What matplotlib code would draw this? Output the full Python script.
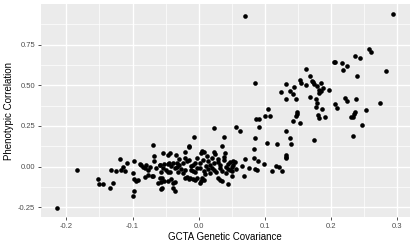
import matplotlib
matplotlib.use("Agg")
import matplotlib.pyplot as plt

# GCTA genetic covariance vs phenotypic correlation
gcta_cov = [
    # sparse left side
    -0.214, -0.184, -0.152, -0.150, -0.145, -0.134, -0.130, -0.133, -0.125, -0.119,
    -0.117, -0.114, -0.112, -0.109, -0.097, -0.100, -0.097, -0.094, -0.098, -0.100,
    # band, x from -0.09 to 0.0
    -0.089, -0.087, -0.084, -0.081, -0.079, -0.077, -0.074, -0.069, -0.067, -0.068,
    -0.071, -0.061, -0.057, -0.053, -0.057, -0.054, -0.047, -0.044, -0.058, -0.052,
    -0.057, -0.047, -0.044, -0.047, -0.045, -0.042, -0.039, -0.036, -0.036, -0.034,
    -0.032, -0.033, -0.031, -0.092, -0.081, -0.076, -0.069, -0.059, -0.055, -0.046,
    -0.041, -0.056, -0.038, -0.021, -0.018, -0.021, -0.021, -0.029, -0.026, -0.023,
    -0.020, -0.015, -0.014, -0.007, -0.017, -0.012, -0.009, -0.005, -0.002, -0.013,
    -0.008, -0.003, -0.014, -0.006, -0.064, -0.059, -0.054, -0.050, -0.036, -0.039,
    -0.030, -0.024,
    # band, x from 0.0 to 0.06
    0.003, 0.005, 0.008, 0.023, 0.025, 0.040, 0.038, 0.036, 0.023, 0.004,
    0.008, 0.002, 0.005, 0.030, 0.033, 0.035, 0.044, 0.050, 0.069,
    -0.014, -0.009, -0.003, 0.002, 0.006, 0.011, 0.015, 0.020, 0.024, 0.029,
    0.033, 0.038, 0.042, 0.047, 0.052, -0.011, -0.005, 0.002, 0.008, 0.014,
    0.018, 0.023, 0.027, 0.032, 0.036, 0.041, 0.045, 0.050, 0.055, 0.052,
    0.050, 0.047, 0.057, 0.012, 0.021, 0.030, 0.039, 0.017, 0.044, 0.009,
    # x from 0.05 to 0.15
    0.056, 0.062, 0.071, 0.086, 0.087, 0.091, 0.092, 0.086, 0.103, 0.084,
    0.084, 0.090, 0.071, 0.099, 0.077, 0.085, 0.089, 0.065, 0.105, 0.100,
    0.108, 0.132, 0.138, 0.140, 0.119, 0.133, 0.132, 0.132, 0.117, 0.122,
    0.111, 0.126, 0.143, 0.153, 0.149, 0.149, 0.148, 0.124, 0.132, 0.139,
    0.143, 0.133, 0.147, 0.144,
    # upper right
    0.153, 0.155, 0.162, 0.163, 0.169, 0.172, 0.173, 0.175, 0.179, 0.186,
    0.189, 0.198, 0.168, 0.177, 0.182, 0.183, 0.186, 0.179, 0.178, 0.187,
    0.181, 0.182, 0.191, 0.175, 0.205, 0.207, 0.217, 0.225, 0.219, 0.236,
    0.245, 0.258, 0.261, 0.284, 0.240, 0.294, 0.222, 0.224, 0.238, 0.206,
    0.210, 0.275, 0.253, 0.236, 0.235, 0.234, 0.231, 0.247, 0.233,
]

pheno_corr = [
    -0.253, -0.020, -0.075, -0.104, -0.104, -0.129, -0.100, -0.022, -0.026, 0.047,
    -0.020, -0.002, -0.028, 0.025, 0.037, -0.040, -0.077, -0.086, -0.147, -0.178,
    0.017, 0.010, 0.000, -0.010, 0.010, -0.020, -0.004, 0.135, 0.067, 0.037,
    -0.055, -0.102, -0.096, -0.088, -0.139, 0.082, 0.072, 0.086, 0.010, 0.015,
    -0.034, -0.034, -0.034, 0.015, 0.025, 0.007, -0.098, -0.092, -0.149, 0.072,
    0.025, 0.000, -0.031, -0.082, -0.061, -0.051, -0.057, -0.071, -0.067, -0.088,
    -0.075, -0.132, -0.129, -0.071, -0.061, 0.088, 0.051, 0.010, -0.011, 0.023,
    -0.020, 0.129, 0.119, 0.180, 0.035, 0.004, -0.026, 0.023, -0.008, -0.071,
    -0.077, -0.067, -0.075, -0.082, -0.008, 0.010, -0.005, -0.020, -0.008, 0.020,
    0.047, -0.039,
    0.082, 0.096, 0.092, 0.088, 0.076, 0.082, 0.180, 0.129, 0.236, -0.086,
    -0.082, -0.098, -0.069, -0.071, -0.082, -0.088, -0.108, -0.057, -0.054,
    0.041, 0.010, 0.053, 0.023, 0.041, 0.004, 0.035, -0.008, 0.023, 0.047,
    0.010, 0.041, -0.002, 0.029, 0.037, -0.020, -0.033, -0.008, -0.026, -0.014,
    -0.039, -0.020, -0.033, -0.008, -0.026, -0.039, -0.014, -0.026, 0.027, 0.010,
    -0.004, -0.020, -0.014, 0.066, 0.053, 0.029, 0.060, 0.010, 0.017, -0.045,
    0.242, 0.221, 0.926, 0.512, 0.293, 0.293, 0.245, 0.176, 0.148, 0.107,
    0.055, 0.037, 0.045, 0.015, -0.010, -0.014, -0.020, 0.004, 0.354, 0.313,
    0.313, 0.222, 0.174, 0.137, 0.142, 0.072, 0.061, 0.052, 0.004, -0.004,
    -0.026, -0.026, 0.283, 0.271, 0.337, 0.323, 0.313, 0.456, 0.506, 0.466,
    0.444, 0.417, 0.417, 0.489,
    0.532, 0.512, 0.499, 0.598, 0.558, 0.526, 0.518, 0.507, 0.497, 0.512,
    0.481, 0.471, 0.428, 0.417, 0.471, 0.454, 0.463, 0.389, 0.366, 0.354,
    0.317, 0.296, 0.307, 0.164, 0.640, 0.642, 0.638, 0.620, 0.591, 0.679,
    0.665, 0.722, 0.702, 0.585, 0.555, 0.939, 0.423, 0.405, 0.413, 0.383,
    0.358, 0.389, 0.350, 0.337, 0.323, 0.307, 0.303, 0.256, 0.188,
]

x_ticks = [-0.2, -0.1, 0.0, 0.1, 0.2, 0.3]
x_tick_labels = ["-0.2", "-0.1", "0.0", "0.1", "0.2", "0.3"]
y_ticks = [-0.25, 0.0, 0.25, 0.5, 0.75]
y_tick_labels = ["-0.25", "0.00", "0.25", "0.50", "0.75"]

plt.rcParams["font.family"] = ["Liberation Sans", "DejaVu Sans"]

fig = plt.figure(figsize=(4.15, 2.42), dpi=100)
ax = fig.add_axes([0.098, 0.103, 0.890, 0.880])

# ggplot2 theme_gray look
ax.set_facecolor("#EBEBEB")
for spine in ax.spines.values():
    spine.set_visible(False)

ax.set_xticks(x_ticks)
ax.set_xticklabels(x_tick_labels)
ax.set_yticks(y_ticks)
ax.set_yticklabels(y_tick_labels)
ax.set_xticks([(a + b) / 2 for a, b in zip(x_ticks[:-1], x_ticks[1:])], minor=True)
ax.set_yticks([(a + b) / 2 for a, b in zip(y_ticks[:-1], y_ticks[1:])] + [0.875], minor=True)

ax.grid(which="major", color="white", linewidth=1.0)
ax.grid(which="minor", color="white", linewidth=0.5)
ax.set_axisbelow(True)

ax.tick_params(which="major", length=2.5, width=0.6, color="#333333",
               labelsize=5.5, labelcolor="#4D4D4D", pad=1.5)
ax.tick_params(which="minor", length=0)

ax.scatter(gcta_cov, pheno_corr, s=11, color="black", linewidths=0, zorder=3)

ax.set_xlim(-0.239, 0.320)
ax.set_ylim(-0.309, 0.998)

ax.set_xlabel("GCTA Genetic Covariance", fontsize=7, labelpad=2)
ax.set_ylabel("Phenotypic Correlation", fontsize=7, labelpad=3)

fig.savefig("out.png", dpi=100)
